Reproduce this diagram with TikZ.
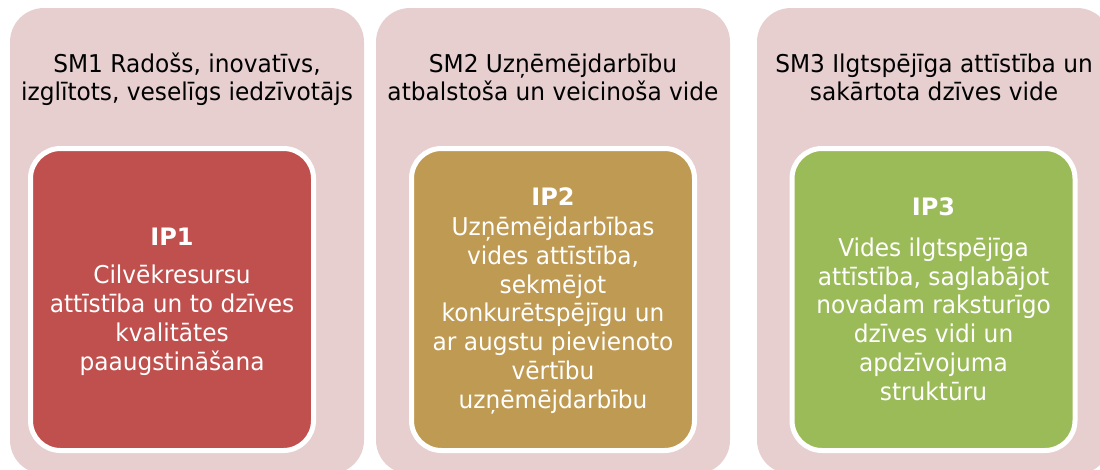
\documentclass[tikz,border=0pt]{standalone}
\usepackage{fontspec}
\setmainfont{DejaVu Sans}[FakeStretch=0.95]
\newfontfamily\ipfont{DejaVu Sans}
\definecolor{smpink}{HTML}{E7CFD0}
\definecolor{ipred}{HTML}{C0504D}
\definecolor{ipgold}{HTML}{BF9A52}
\definecolor{ipgreen}{HTML}{9BBB59}
\begin{document}
\begin{tikzpicture}[x=1pt, y=-1pt,
    smbox/.style={fill=smpink, draw=none, rounded corners=34pt, inner sep=0,
        minimum width=354pt, minimum height=466pt},
    ipbox/.style={draw=white, line width=5pt, rounded corners=30pt, inner sep=0,
        minimum width=283pt, minimum height=302pt},
    smtitle/.style={align=center, anchor=base, font=\fontsize{24.5}{28}\selectfont},
    iplabel/.style={anchor=base, text=white, font=\ipfont\bfseries\fontsize{24}{28}\selectfont},
    iptext/.style={align=center, anchor=base, text=white, font=\fontsize{24.5}{28.7}\selectfont}]
    \useasboundingbox (0,0) rectangle (1100,469);%
    \clip (0,0) rectangle (1100,469);%
    % outer columns
    \node[smbox] (sm1) at (187,241) {};%
    \node[smbox] (sm2) at (553,241) {};%
    \node[smbox] (sm3) at (934,241) {};%
    % titles (anchor on last line)
    \node[smtitle] (sm1title) at (187,100) {SM1 Radošs, inovatīvs,\\izglītots, veselīgs iedzīvotājs};%
    \node[smtitle] (sm2title) at (553,100) {SM2 Uzņēmējdarbību\\atbalstoša un veicinoša vide};%
    \node[smtitle] (sm3title) at (934,100) {SM3 Ilgtspējīga attīstība un\\sakārtota dzīves vide};%
    % inner boxes
    \node[ipbox, fill=ipred] (ip1) at (172,299.5) {};%
    \node[ipbox, fill=ipgold] (ip2) at (553,299.5) {};%
    \node[ipbox, fill=ipgreen] (ip3) at (933.5,299.5) {};%
    \node[iplabel] (ip1label) at (172,245) {IP1};%
    \node[iptext] (ip1text) at (172,370) {Cilvēkresursu\\attīstība un to dzīves\\kvalitātes\\paaugstināšana};%
    \node[iplabel] (ip2label) at (553,205) {IP2};%
    \node[iptext] (ip2text) at (553,408) {Uzņēmējdarbības\\vides attīstība,\\sekmējot\\konkurētspējīgu un\\ar augstu pievienoto\\vērtību\\uzņēmējdarbību};%
    \node[iplabel] (ip3label) at (933.5,215) {IP3};%
    \node[iptext] (ip3text) at (933.5,400) {Vides ilgtspējīga\\attīstība, saglabājot\\novadam raksturīgo\\dzīves vidi un\\apdzīvojuma\\struktūru};%
\end{tikzpicture}
\end{document}
